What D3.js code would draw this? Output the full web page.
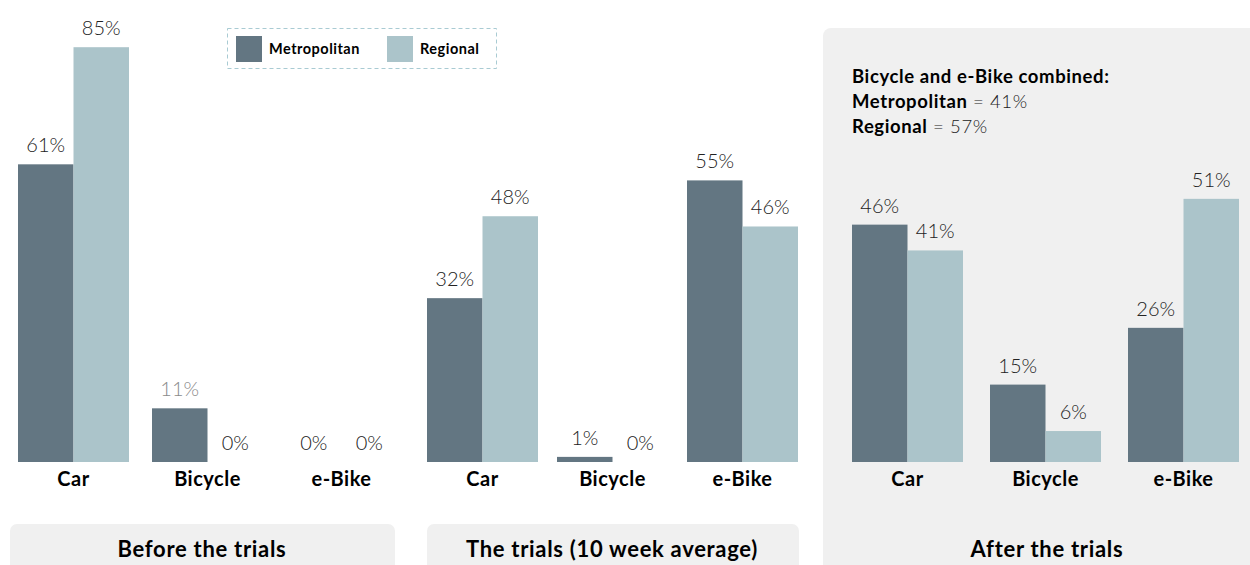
<!DOCTYPE html>
<html>
<head>
<meta charset="utf-8">
<script src="https://cdn.jsdelivr.net/npm/d3@7"></script>
<style>
  body { margin: 0; background: #fff; }
  svg { display: block; font-family: Lato, "Open Sans", sans-serif; }
</style>
</head>
<body>
<svg id="chart" width="1250" height="565"></svg>
<script>
  var categories = ['Car', 'Bicycle', 'e-Bike'];
  var seriesNames = ['Metropolitan', 'Regional'];
  var panelTitles = ['Before the trials', 'The trials (10 week average)', 'After the trials'];

  var beforeMetro = [61, 11, 0];
  var beforeRegional = [85, 0, 0];
  var trialMetro = [32, 1, 55];
  var trialRegional = [48, 0, 46];
  var afterMetro = [46, 15, 26];
  var afterRegional = [41, 6, 51];

  var combinedTitle = 'Bicycle and e-Bike combined:';
  var combinedMetro = '41%';
  var combinedRegional = '57%';

  var colors = ['#637682', '#abc4ca'];

  // each panel has its own scale in the original
  var barW = 111;
  var panels = [
    { title: panelTitles[0], values: [beforeMetro, beforeRegional], x0: 18, step: 134, span: 488, tx: 202 },
    { title: panelTitles[1], values: [trialMetro, trialRegional], x0: 427, step: 130, span: 512, tx: 612 },
    { title: panelTitles[2], values: [afterMetro, afterRegional], x0: 852, step: 138, span: 516, tx: 1047 }
  ];

  var svg = d3.select('#chart');
  var baseline = 462;

  // background box for the "after" panel
  svg.append('rect')
    .attr('x', 823).attr('y', 28)
    .attr('width', 440).attr('height', 560)
    .attr('rx', 8)
    .attr('fill', '#f0f0f0');

  // title boxes for the first two panels
  [[10, 395], [427, 799]].forEach(function (b) {
    svg.append('rect')
      .attr('x', b[0]).attr('y', 524)
      .attr('width', b[1] - b[0]).attr('height', 60)
      .attr('rx', 7)
      .attr('fill', '#f0f0f0');
  });

  panels.forEach(function (p, pi) {
    var x = d3.scaleBand()
      .domain(categories)
      .range([p.x0, p.x0 + 2 * p.step + barW])
      .paddingInner((p.step - barW) / p.step)
      .paddingOuter(0);
    var xs = d3.scaleBand()
      .domain(seriesNames)
      .range([0, x.bandwidth()]);
    var y = d3.scaleLinear()
      .domain([0, 100])
      .range([baseline, baseline - p.span]);

    var g = svg.append('g');
    var rows = [];
    categories.forEach(function (c, ci) {
      seriesNames.forEach(function (s, si) {
        rows.push({ cat: c, series: s, si: si, v: p.values[si][ci] });
      });
    });

    g.selectAll('rect.bar')
      .data(rows)
      .enter().append('rect')
        .attr('class', 'bar')
        .attr('x', function (d) { return x(d.cat) + xs(d.series); })
        .attr('y', function (d) { return y(d.v); })
        .attr('width', xs.bandwidth())
        .attr('height', function (d) { return baseline - y(d.v); })
        .attr('fill', function (d) { return colors[d.si]; });

    g.selectAll('text.val')
      .data(rows)
      .enter().append('text')
        .attr('class', 'val')
        .attr('x', function (d) { return x(d.cat) + xs(d.series) + xs.bandwidth() / 2; })
        .attr('y', function (d) { return y(d.v) - 12; })
        .attr('text-anchor', 'middle')
        .attr('font-size', 20)
        .attr('font-weight', 300)
        .attr('fill', function (d) { return (pi === 0 && d.cat === 'Bicycle' && d.si === 0) ? '#8a8a8a' : '#222'; })
        .text(function (d) { return d.v + '%'; });

    g.selectAll('text.cat')
      .data(categories)
      .enter().append('text')
        .attr('class', 'cat')
        .attr('x', function (d) { return x(d) + x.bandwidth() / 2; })
        .attr('y', 486)
        .attr('text-anchor', 'middle')
        .attr('font-size', 20)
        .attr('font-weight', 700)
        .attr('letter-spacing', 0.5)
        .attr('fill', '#000')
        .text(function (d) { return d; });

    svg.append('text')
      .attr('x', p.tx)
      .attr('y', 557)
      .attr('text-anchor', 'middle')
      .attr('font-size', 22)
      .attr('font-weight', 700)
      .attr('letter-spacing', 0.7)
      .attr('fill', '#000')
      .text(p.title);
  });

  // combined annotation
  var note = svg.append('g').attr('font-size', 18.5).attr('fill', '#000')
    .attr('letter-spacing', 0.6);
  note.append('text').attr('x', 852).attr('y', 83)
    .attr('font-weight', 700).text(combinedTitle);
  var t1 = note.append('text').attr('x', 852).attr('y', 108);
  t1.append('tspan').attr('font-weight', 700).text(seriesNames[0]);
  t1.append('tspan').attr('font-weight', 300).attr('fill', '#222').text(' = ' + combinedMetro);
  var t2 = note.append('text').attr('x', 852).attr('y', 133);
  t2.append('tspan').attr('font-weight', 700).text(seriesNames[1]);
  t2.append('tspan').attr('font-weight', 300).attr('fill', '#222').text(' = ' + combinedRegional);

  // legend
  var legend = svg.append('g');
  legend.append('rect')
    .attr('x', 227.5).attr('y', 28.5)
    .attr('width', 269).attr('height', 40)
    .attr('fill', 'none')
    .attr('stroke', '#a9cbd3')
    .attr('stroke-dasharray', '4,3');
  var legendX = [236, 387];
  seriesNames.forEach(function (s, i) {
    legend.append('rect')
      .attr('x', legendX[i]).attr('y', 36)
      .attr('width', 26).attr('height', 26)
      .attr('fill', colors[i]);
    legend.append('text')
      .attr('x', legendX[i] + 33).attr('y', 54)
      .attr('font-size', 14.5)
      .attr('font-weight', 700)
      .attr('letter-spacing', 0.5)
      .attr('fill', '#000')
      .text(s);
  });
</script>
</body>
</html>
